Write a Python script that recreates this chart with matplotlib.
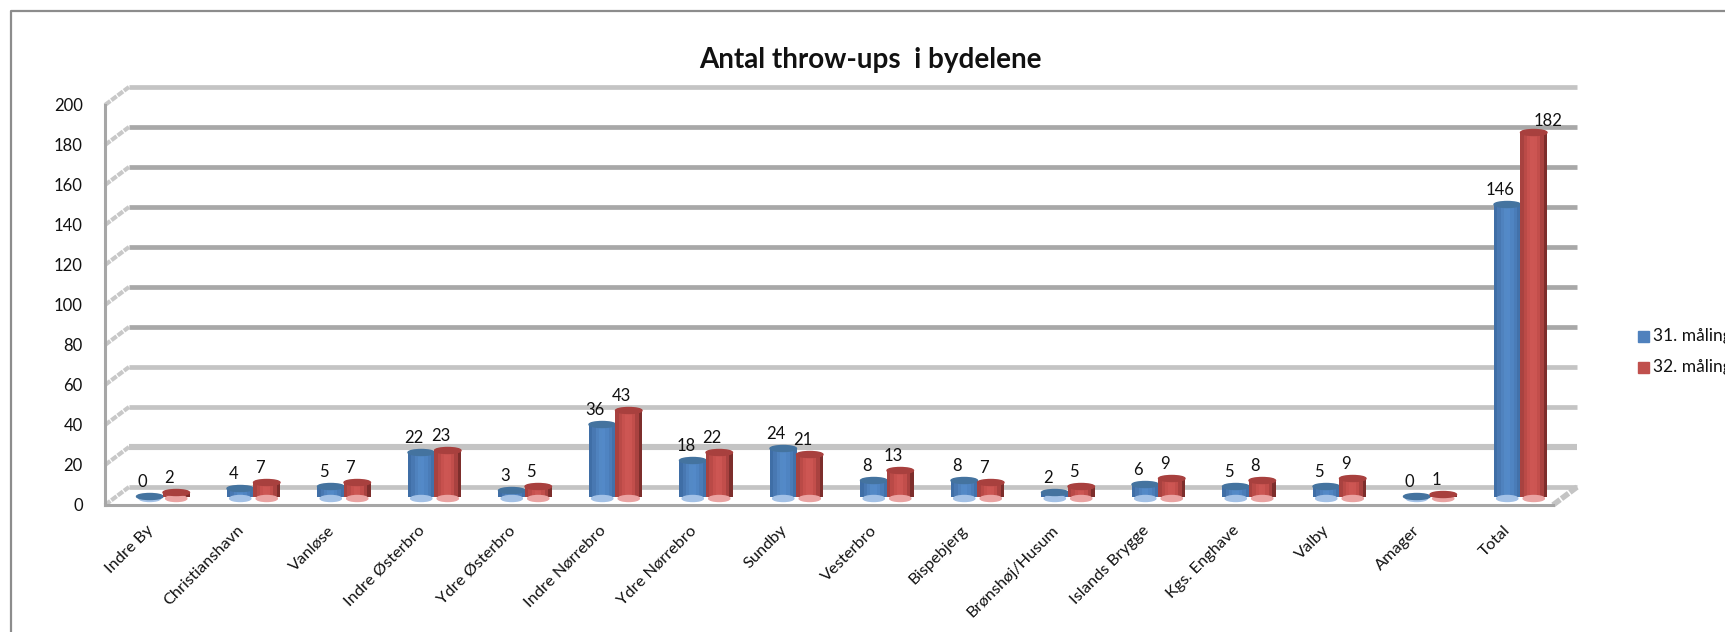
import matplotlib
matplotlib.use("Agg")
import matplotlib.pyplot as plt
from matplotlib.lines import Line2D
from matplotlib.patches import Ellipse, Rectangle
from matplotlib.transforms import Affine2D

plt.rcParams['font.family'] = ['Lato', 'DejaVu Sans']

categories = ["Indre By", "Christianshavn", "Vanløse", "Indre Østerbro", "Ydre Østerbro",
              "Indre Nørrebro", "Ydre Nørrebro", "Sundby", "Vesterbro", "Bispebjerg",
              "Brønshøj/Husum", "Islands Brygge", "Kgs. Enghave", "Valby", "Amager", "Total"]
maaling_31 = [0, 4, 5, 22, 3, 36, 18, 24, 8, 8, 2, 6, 5, 5, 0, 146]
maaling_32 = [2, 7, 7, 23, 5, 43, 22, 21, 13, 7, 5, 9, 8, 9, 1, 182]
series_names = ["31. måling", "32. måling"]
y_ticks = list(range(0, 201, 20))

W, H = 1725, 632
BLUE = ["#3f6ea6", "#4878b2", "#4f82be", "#5389c6", "#5389c8", "#4f84c2", "#4a7cb8", "#4271aa"]
RED = ["#a84240", "#ba4a47", "#c7514e", "#cd5653", "#cc5552", "#c24e4b", "#a94240", "#7d2e2c"]


def px_x(x):
    return x / W


def px_y(y):
    return 1 - y / H


fig = plt.figure(figsize=(W / 100, H / 100), dpi=100)
# the axes is the front plane of the fake 3d box
ax = fig.add_axes([px_x(105), px_y(505), px_x(1553 - 105), 400 / H])
ax.set_xlim(-0.5, 15.5)
ax.set_ylim(0, 200)
ax.axis("off")

wall = ax.transData + Affine2D().translate(24, 18)
plane = ax.transData + Affine2D().translate(12.75, 8.5)
px_per_cat = 1448 / 16
px_per_unit = 2.0

# back wall gridlines and the dashed floor/side connectors
for v in y_ticks:
    dark = 80 <= v < 200
    ax.plot([-0.5, 15.5], [v, v], transform=wall, clip_on=False, solid_capstyle="butt",
            color="#a8a8a8" if dark else "#c4c4c4", lw=4.4 if v == 20 else 3.4, zorder=1)
    ax.plot([-0.5, -0.5 + 24 / px_per_cat], [v, v + 18 / px_per_unit], clip_on=False,
            color="#c8c8c8", lw=3, ls=(0, (1.6, 0.3)), zorder=1)
ax.plot([15.5, 15.5 + 24 / px_per_cat], [0, 18 / px_per_unit], clip_on=False,
        color="#c4c4c4", lw=4, ls=(0, (1.6, 0.3)), zorder=1)

ax.plot([-0.5, -0.5], [0, 200], clip_on=False, color="#a6a6a6", lw=2.2, zorder=2)
ax.plot([-0.5, 15.5], [0, 0], clip_on=False, color="#a6a6a6", lw=2.2, zorder=2)

bar_w = 26.5 / px_per_cat
top_h = 6 / px_per_unit
series_shades = [BLUE, RED]
top_colors = ["#44739f", "#a8403e"]
foot_colors = ["#a3c1e6", "#eaa3a2"]
strip = bar_w / len(BLUE)

# each cylinder: shaded strips, light foot, dark top ellipse
for s, values in enumerate([maaling_31, maaling_32]):
    shift = (s - 0.5) * bar_w
    for i, shade in enumerate(series_shades[s]):
        pos = [k + shift - bar_w / 2 + (i + 0.5) * strip for k in range(len(values))]
        ax.bar(pos, values, width=strip * 1.05, color=shade, transform=plane, clip_on=False,
               zorder=3 + s)
    for k, v in enumerate(values):
        ax.add_patch(Ellipse((k + shift, -1), bar_w * 0.8, top_h, color=foot_colors[s],
                             transform=plane, clip_on=False, zorder=3.4 + s))
        ax.add_patch(Ellipse((k + shift, v), bar_w, top_h, color=top_colors[s], transform=plane,
                             clip_on=False, zorder=3.5 + s))

# data labels sit a bit left of their bar, 182 is the exception
for s, values in enumerate([maaling_31, maaling_32]):
    shift = (s - 0.5) * bar_w
    for k, v in enumerate(values):
        dx, dy = (10, 8) if v == 182 else (-5, 10.5)
        ax.annotate(str(v), (k + shift, v), xycoords=plane, xytext=(dx, dy),
                    textcoords="offset points", ha="center", va="center", fontsize=12,
                    color="#111111", zorder=6, annotation_clip=False)

for v in y_ticks:
    ax.annotate(str(v), (-0.5, v), xytext=(-16, -0.5), textcoords="offset points", ha="right",
                va="center", fontsize=12, color="#111111", annotation_clip=False)

for k, name in enumerate(categories):
    ax.annotate(name, (k, 0), xytext=(-3, -13), textcoords="offset points", ha="right", va="top",
                rotation=45, rotation_mode="anchor", fontsize=11.8, color="#111111",
                annotation_clip=False)

fig.text(px_x(870), px_y(60), "Antal throw-ups  i bydelene", ha="center", va="center",
         fontsize=20, fontweight="bold", color="#111111")

# legend is cut by the figure edge like in the source
for name, color, y in zip(series_names, ["#4f81bd", "#c0504d"], [336, 367]):
    fig.add_artist(Rectangle((px_x(1638), px_y(y + 5.5)), 11 / W, 11 / H, color=color,
                             transform=fig.transFigure))
    fig.text(px_x(1653), px_y(y), name, ha="left", va="center", fontsize=12.5, color="#111111")

# chart frame, only top and left are in the picture
fig.add_artist(Line2D([px_x(11), px_x(11), 1], [0, px_y(11), px_y(11)], color="#8c8c8c", lw=1.6,
                      transform=fig.transFigure))

fig.savefig("out.png", dpi=100)
